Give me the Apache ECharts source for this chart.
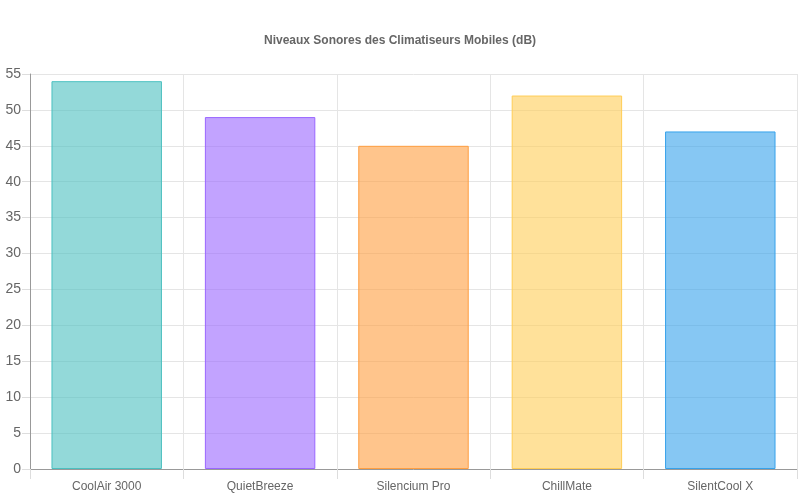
<!DOCTYPE html>
<html>
<head>
<meta charset="utf-8">
<script src="https://cdn.jsdelivr.net/npm/echarts@6/dist/echarts.min.js"></script>
<style>
  html, body { margin: 0; padding: 0; background: #fff; }
  #chart { width: 800px; height: 500px; }
</style>
</head>
<body>
<div id="chart"></div>
<script>
// données du graphique
var categories = ['CoolAir 3000', 'QuietBreeze', 'Silencium Pro', 'ChillMate', 'SilentCool X'];
var niveaux = [54, 49, 45, 52, 47];
var fillColors = ['rgba(75,192,192,0.6)', 'rgba(153,102,255,0.6)', 'rgba(255,159,64,0.6)', 'rgba(255,205,86,0.6)', 'rgba(54,162,235,0.6)'];
var borderColors = ['rgb(75,192,192)', 'rgb(153,102,255)', 'rgb(255,159,64)', 'rgb(255,205,86)', 'rgb(54,162,235)'];

var chart = echarts.init(document.getElementById('chart'));

var barData = niveaux.map(function (v, i) {
    return {
        value: v,
        itemStyle: {
            color: fillColors[i],
            borderColor: borderColors[i],
            borderWidth: 1
        }
    };
});

chart.setOption({
    animation: false,
    title: {
        text: 'Niveaux Sonores des Climatiseurs Mobiles (dB)',
        left: 'center',
        top: 30,
        textStyle: {
            fontFamily: 'Liberation Sans, Arial, sans-serif',
            fontSize: 12,
            fontWeight: 'bold',
            color: '#666'
        }
    },
    grid: {
        left: 30,
        right: 3,
        top: 74,
        bottom: 31,
        containLabel: false
    },
    xAxis: {
        type: 'category',
        data: categories,
        axisLine: { lineStyle: { color: '#999', width: 1 } },
        axisTick: { show: true, length: 10, lineStyle: { color: '#ddd' } },
        splitLine: { show: true, lineStyle: { color: '#e5e5e5' } },
        axisLabel: {
            color: '#666',
            fontSize: 12,
            fontFamily: 'Liberation Sans, Arial, sans-serif',
            margin: 12
        }
    },
    yAxis: {
        type: 'value',
        min: 0,
        max: 55,
        interval: 5,
        axisLine: { show: true, lineStyle: { color: '#999', width: 1 } },
        axisTick: { show: true, length: 8, lineStyle: { color: '#ddd' } },
        splitLine: { show: true, lineStyle: { color: '#e5e5e5' } },
        axisLabel: {
            color: '#666',
            fontSize: 14,
            fontFamily: 'Liberation Sans, Arial, sans-serif',
            margin: 9
        }
    },
    series: [{
        type: 'bar',
        data: barData,
        barWidth: '72%'
    }]
});
</script>
</body>
</html>
